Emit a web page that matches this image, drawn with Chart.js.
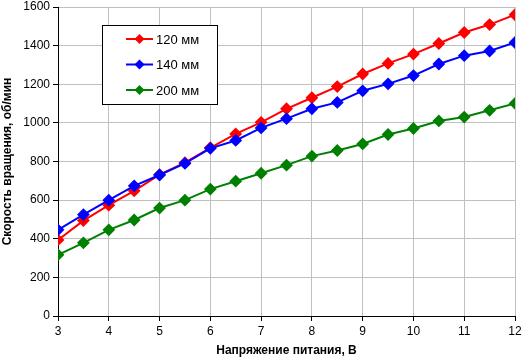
<!DOCTYPE html>
<html>
<head>
<meta charset="utf-8">
<script src="https://cdn.jsdelivr.net/npm/chart.js@4/dist/chart.umd.min.js"></script>
<style>
    html, body { margin: 0; padding: 0; background: #fff; }
    #wrap { width: 522px; height: 362px; }
</style>
</head>
<body>
<div id="wrap"><canvas id="fan-chart" width="522" height="362"></canvas></div>
<script>
// Data
const voltages = [3, 3.5, 4, 4.5, 5, 5.5, 6, 6.5, 7, 7.5, 8, 8.5, 9, 9.5, 10, 10.5, 11, 11.5, 12];
const fan120 = [394, 494, 574, 648, 732, 794, 871, 943, 1003, 1073, 1130, 1188, 1253, 1308, 1356, 1411, 1468, 1509, 1560];
const fan140 = [446, 525, 600, 674, 730, 790, 868, 909, 974, 1022, 1073, 1106, 1166, 1202, 1245, 1305, 1348, 1372, 1416];
const fan200 = [317, 379, 446, 497, 559, 600, 657, 698, 739, 781, 828, 857, 891, 940, 971, 1010, 1030, 1065, 1101];
const seriesLabels = ['120 мм', '140 мм', '200 мм'];
const seriesColors = ['#ff0000', '#0000ff', '#008000'];
const xTitle = 'Напряжение питания, В';
const yTitle = 'Скорость вращения, об/мин';

const FONT = '"Liberation Sans", Arial, sans-serif';

function toPoints(values) {
    return values.map((v, i) => ({ x: voltages[i], y: v }));
}

// Legend box drawn inside the plot, like the original
const boxLegend = {
    id: 'boxLegend',
    afterDraw(chart) {
        const ctx = chart.ctx;
        const left = 102, top = 25, width = 115, height = 79;
        ctx.save();
        ctx.fillStyle = '#fff';
        ctx.fillRect(left, top, width, height);
        ctx.strokeStyle = '#000';
        ctx.lineWidth = 1;
        ctx.strokeRect(left + 0.5, top + 0.5, width, height);
        chart.data.datasets.forEach((ds, i) => {
            const y = 39 + i * 25.5;
            ctx.strokeStyle = ds.borderColor;
            ctx.lineWidth = 2;
            ctx.beginPath();
            ctx.moveTo(126, y);
            ctx.lineTo(153, y);
            ctx.stroke();
            ctx.fillStyle = ds.borderColor;
            ctx.beginPath();
            ctx.moveTo(139.5, y - 5);
            ctx.lineTo(144.5, y);
            ctx.lineTo(139.5, y + 5);
            ctx.lineTo(134.5, y);
            ctx.closePath();
            ctx.fill();
            ctx.fillStyle = '#000';
            ctx.font = '13px ' + FONT;
            ctx.textBaseline = 'middle';
            ctx.fillText(ds.label, 156, y + 1);
        });
        ctx.restore();
    }
};

const makeSet = (label, values, color, order) => ({
    label: label,
    data: toPoints(values),
    borderColor: color,
    backgroundColor: color,
    borderWidth: 2,
    pointStyle: 'rectRot',
    pointRadius: 5,
    pointHoverRadius: 5,
    tension: 0,
    order: order
});

new Chart(document.getElementById('fan-chart').getContext('2d'), {
    type: 'line',
    data: {
        datasets: [
            makeSet(seriesLabels[0], fan120, seriesColors[0], 2),
            makeSet(seriesLabels[1], fan140, seriesColors[1], 1),
            makeSet(seriesLabels[2], fan200, seriesColors[2], 0)
        ]
    },
    options: {
        responsive: false,
        animation: false,
        layout: { padding: { left: 0, right: 6, top: 5, bottom: 0 } },
        plugins: {
            legend: { display: false },
            tooltip: { enabled: false }
        },
        scales: {
            x: {
                type: 'linear',
                min: 3,
                max: 12,
                ticks: { stepSize: 1, color: '#000', font: { family: FONT, size: 12 }, padding: 3 },
                grid: { color: '#c0c0c0', tickColor: '#000', tickLength: 5 },
                border: { color: '#000' },
                title: { display: true, text: xTitle, color: '#000', font: { family: FONT, size: 12, weight: 'bold' }, padding: { top: 2, bottom: 4 } },
                afterFit(scale) {
                    scale.height = 46;
                    scale.paddingLeft = 0;
                    scale.paddingRight = 0;
                }
            },
            y: {
                min: 0,
                max: 1600,
                ticks: {
                    stepSize: 200, color: '#000', font: { family: FONT, size: 12 }, padding: 3,
                    callback: v => String(v)
                },
                grid: { color: '#c0c0c0', tickColor: '#000', tickLength: 5 },
                border: { color: '#000' },
                title: { display: true, text: yTitle, color: '#000', font: { family: FONT, size: 12, weight: 'bold' }, padding: { top: 0, bottom: 2 } },
                afterFit(scale) {
                    scale.width = 58;
                    scale.paddingTop = 0;
                    scale.paddingBottom = 0;
                }
            }
        }
    },
    plugins: [boxLegend]
});
</script>
</body>
</html>
